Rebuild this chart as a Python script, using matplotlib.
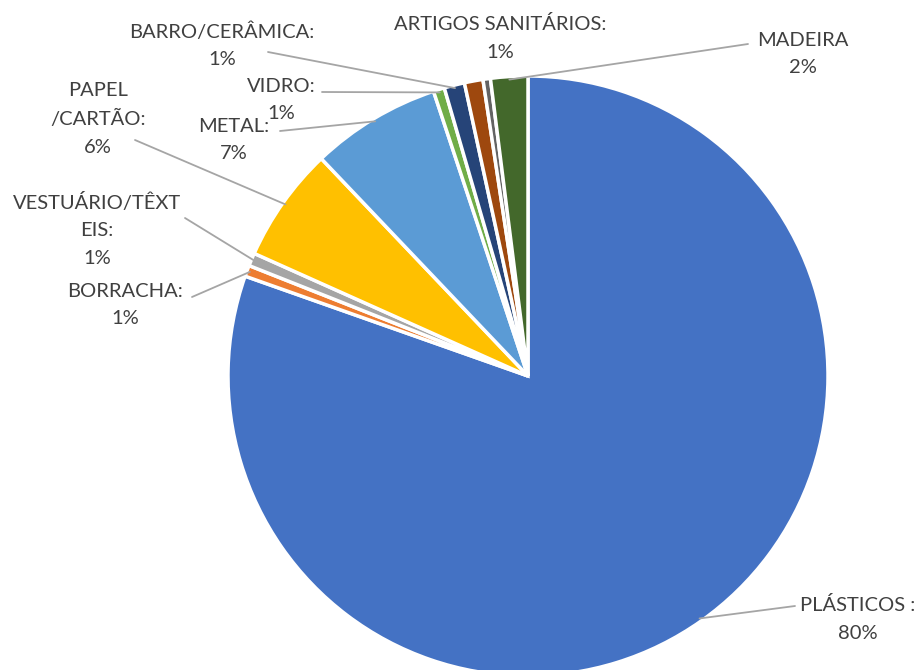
import numpy as np
import matplotlib.pyplot as plt

# waste categories, clockwise from 12 o'clock
categories = ['PLÁSTICOS', 'BORRACHA', 'VESTUÁRIO/TÊXTEIS', 'PAPEL /CARTÃO', 'METAL',
              'VIDRO', 'BARRO/CERÂMICA', 'ARTIGOS SANITÁRIOS', 'OUTROS', 'MADEIRA']
shares = [80.4, 0.6, 0.7, 6.2, 7.0, 0.6, 1.1, 1.0, 0.4, 2.0]
pct_labels = ['80%', '1%', '1%', '6%', '7%', '1%', '1%', '1%', '', '2%']
label_text = ['PLÁSTICOS :', 'BORRACHA:', 'VESTUÁRIO/TÊXT\nEIS:', 'PAPEL\n/CARTÃO:', 'METAL:',
              'VIDRO:', 'BARRO/CERÂMICA:', 'ARTIGOS SANITÁRIOS:', '', 'MADEIRA']
colors = ['#4472C4', '#ED7D31', '#A5A5A5', '#FFC000', '#5B9BD5',
          '#70AD47', '#264478', '#9E480E', '#636363', '#43682B']

W, H = 918, 670
cx, cy, R = 528, 376, 300

fig = plt.figure(figsize=(W / 100, H / 100), dpi=100)
ax = fig.add_axes([(cx - R) / W, (H - cy - R) / H, 2 * R / W, 2 * R / H])

wedges, _ = ax.pie(shares, colors=colors, startangle=90, counterclock=False,
                   radius=1, wedgeprops=dict(edgecolor='white', linewidth=2.5))
for w in wedges:
    w.set_clip_on(False)
ax.set_xlim(-1, 1)
ax.set_ylim(-1, 1)
ax.axis('off')


def to_data(px, py):
    return (px - cx) / R, (cy - py) / R


# label centre (px), leader end near text (px) or None
label_pos = {
    'PLÁSTICOS': ((858, 619), (795, 606)),
    'BORRACHA': ((125, 305), (192, 297)),
    'VESTUÁRIO/TÊXTEIS': ((97, 230), (185, 218)),
    'PAPEL /CARTÃO': ((98, 119), (135, 140)),
    'METAL': ((234, 140), (280, 131)),
    'VIDRO': ((281, 100), (322, 92)),
    'BARRO/CERÂMICA': ((222, 45), (268, 52)),
    'ARTIGOS SANITÁRIOS': ((500, 38), None),
    'MADEIRA': ((803, 54), (748, 44)),
}

font = dict(family=['Lato', 'DejaVu Sans'], fontsize=14.5, color='#404040')
for w, cat, txt, pct in zip(wedges, categories, label_text, pct_labels):
    if cat not in label_pos:
        continue
    (lx, ly), lead = label_pos[cat]
    tx, ty = to_data(lx, ly)
    ax.text(tx, ty, txt + '\n' + pct, ha='center', va='center',
            linespacing=1.72, **font)
    if lead is not None:
        mid = np.deg2rad((w.theta1 + w.theta2) / 2)
        ex, ey = to_data(*lead)
        ax.annotate('', xy=(0.99 * np.cos(mid), 0.99 * np.sin(mid)), xytext=(ex, ey),
                    arrowprops=dict(arrowstyle='-', color='#A5A5A5', lw=1.3,
                                    shrinkA=0, shrinkB=0), annotation_clip=False)

fig.savefig('out.png', dpi=100)
